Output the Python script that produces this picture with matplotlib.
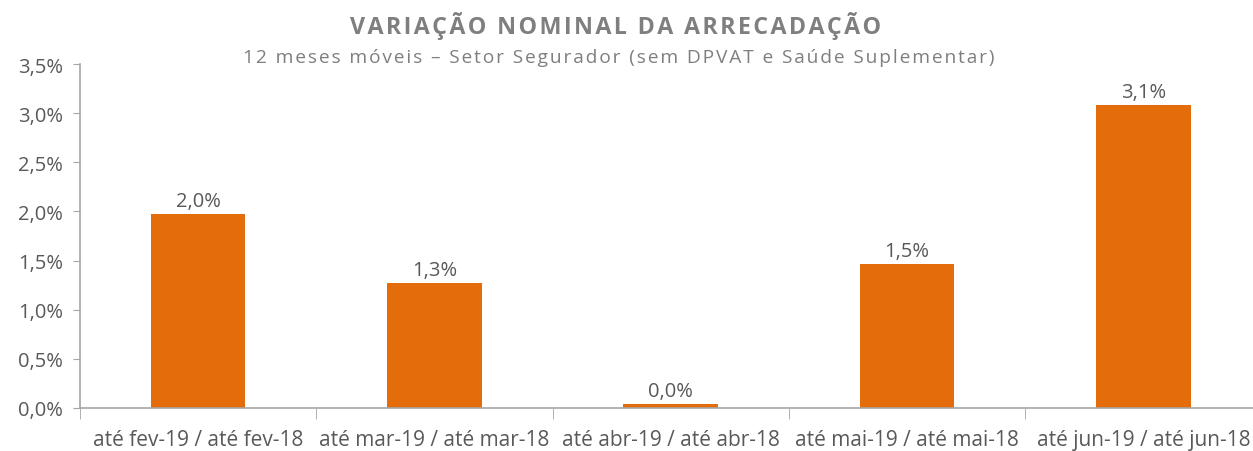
import matplotlib.pyplot as plt
from matplotlib.ticker import FuncFormatter

# data
categories = ['até fev-19 / até fev-18', 'até mar-19 / até mar-18',
              'até abr-19 / até abr-18', 'até mai-19 / até mai-18',
              'até jun-19 / até jun-18']
values = [1.97, 1.27, 0.045, 1.47, 3.08]
labels = ['2,0%', '1,3%', '0,0%', '1,5%', '3,1%']

plt.rcParams['font.family'] = ['Open Sans', 'DejaVu Sans']

bar_color = '#E46C0A'
text_color = '#595959'
axis_color = '#A6A6A6'
fs = 14.5

fig = plt.figure(figsize=(12.53, 4.52), dpi=100)
ax = fig.add_axes([80 / 1253, 1 - 409 / 452, 1181.5 / 1253, 344 / 452])

x = list(range(len(categories)))
ax.bar(x, values, width=0.40, color=bar_color, zorder=2)

for xi, v, lab in zip(x, values, labels):
    ax.text(xi, v + 0.03, lab, ha='center', va='bottom', fontsize=fs, color=text_color)

ax.set_xlim(-0.5, len(categories) - 0.5)
ax.set_ylim(0, 3.5)
ax.set_yticks([0, 0.5, 1.0, 1.5, 2.0, 2.5, 3.0, 3.5])
ax.yaxis.set_major_formatter(FuncFormatter(lambda v, p: f'{v:.1f}%'.replace('.', ',')))

# category labels between boundary ticks
ax.set_xticks(x)
ax.set_xticklabels(categories, fontsize=15, color=text_color)
ax.tick_params(axis='x', length=0, pad=15)
ax.set_xticks([i - 0.5 for i in range(len(categories) + 1)], minor=True)
ax.tick_params(axis='x', which='minor', length=8, color=axis_color, direction='out')
ax.tick_params(axis='y', length=5, color=axis_color, labelsize=fs, labelcolor=text_color, pad=7)

for side in ['top', 'right']:
    ax.spines[side].set_visible(False)
for side in ['left', 'bottom']:
    ax.spines[side].set_color(axis_color)
    ax.spines[side].set_linewidth(1.2)

hair = '\u200a'
title = fig.text(616 / 1253, 1 - 34 / 452, hair.join('VARIAÇÃO NOMINAL DA ARRECADAÇÃO'),
                 ha='center', va='baseline', fontsize=15, fontweight='bold', color='#7F7F7F')
subtitle = fig.text(619 / 1253, 1 - 63 / 452, hair.join('12 meses móveis – Setor Segurador (sem DPVAT e Saúde Suplementar)'),
                    ha='center', va='baseline', fontsize=12, color='#7F7F7F')

# scale title texts so their widths match the reference
renderer = fig.canvas.get_renderer()
for t, target in [(title, 532), (subtitle, 750)]:
    w = t.get_window_extent(renderer).width
    t.set_fontsize(t.get_fontsize() * target / w)

plt.savefig('out.png', dpi=100)
